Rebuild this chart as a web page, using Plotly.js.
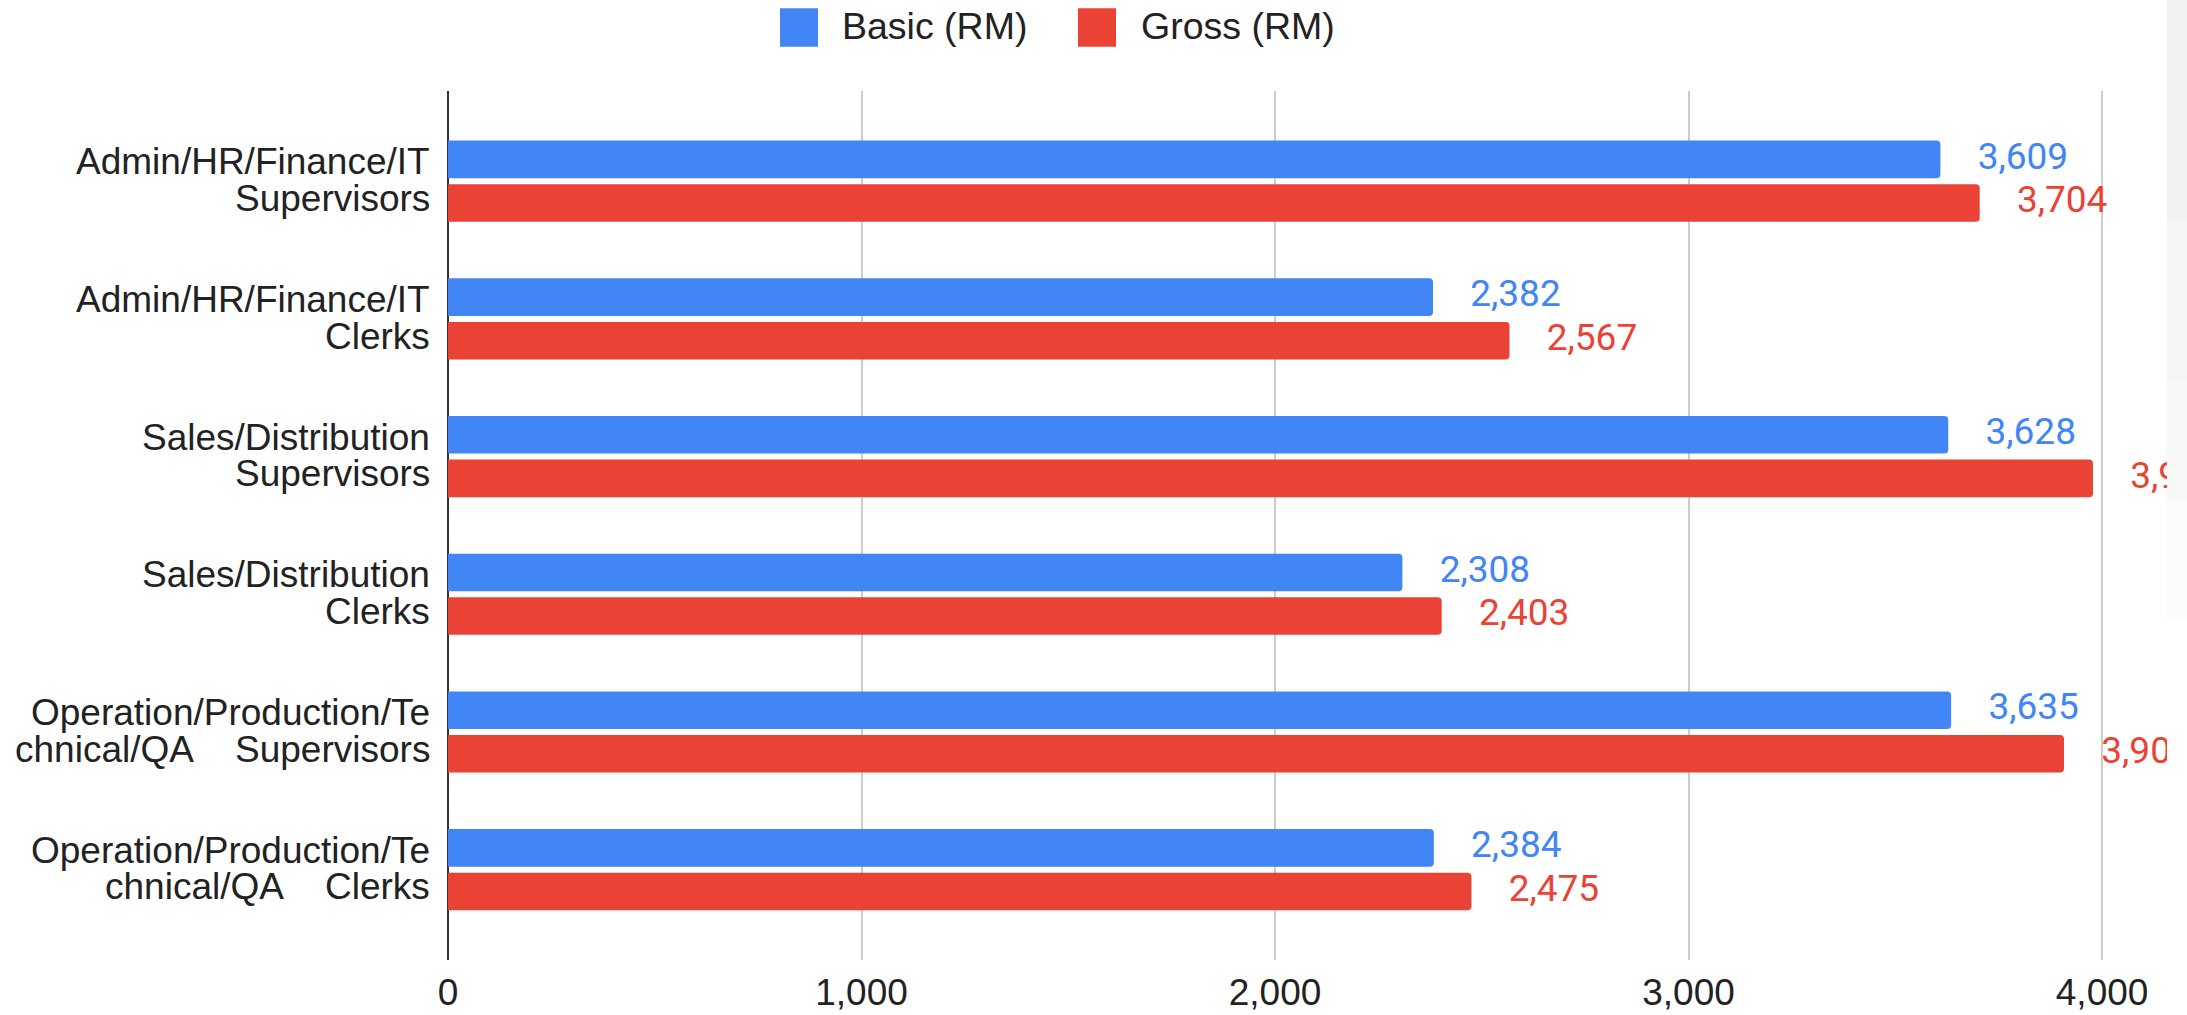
<!DOCTYPE html>
<html><head><meta charset="utf-8">
<script src="https://cdn.plot.ly/plotly-3.0.1.min.js"></script>
<style>html,body{margin:0;padding:0;background:#fff;overflow:hidden}#chart{width:2187px;height:1015px}</style>
</head><body><div id="chart"></div>
<script>
// ---- data ----
const categories = [
  "Admin/HR/Finance/IT Supervisors",
  "Admin/HR/Finance/IT Clerks",
  "Sales/Distribution Supervisors",
  "Sales/Distribution Clerks",
  "Operation/Production/Technical/QA Supervisors",
  "Operation/Production/Technical/QA Clerks"
];
const tickLabelLines = [
  ["Admin/HR/Finance/IT", "Supervisors"],
  ["Admin/HR/Finance/IT", "Clerks"],
  ["Sales/Distribution", "Supervisors"],
  ["Sales/Distribution", "Clerks"],
  ["Operation/Production/Te", "chnical/QA\u00a0\u00a0\u00a0\u00a0Supervisors"],
  ["Operation/Production/Te", "chnical/QA\u00a0\u00a0\u00a0\u00a0Clerks"]
];
const seriesNames = ["Basic (RM)", "Gross (RM)"];
const basicValues = [3609, 2382, 3628, 2308, 3635, 2384];
const grossValues = [3704, 2567, 3978, 2403, 3908, 2475];
const xTickValues = [0, 1000, 2000, 3000, 4000];
const xTickLabels = ["0", "1,000", "2,000", "3,000", "4,000"];

// ---- styles ----
const BLUE = "#4285F4", RED = "#EA4335";
const seriesColors = [BLUE, RED];
const ARIAL = '"Liberation Sans", Arial, sans-serif';
const fmt = v => v.toLocaleString("en-US");

// page geometry helpers (pixel -> paper)
const M = {l: 448, r: 20, t: 91, b: 55};
const W = 2187, H = 1015;
const PW = W - M.l - M.r, PH = H - M.t - M.b;
const px2x = p => (p - M.l) / PW;
const py2y = p => (H - M.b - p) / PH;

function barTrace(name, vals, color) {
  return {type: "bar", orientation: "h", name: name, y: categories, x: vals,
    marker: {color: color, line: {width: 0}}, hoverinfo: "skip", showlegend: false};
}
function labelTrace(vals, color) {
  return {type: "scatter", mode: "markers+text", orientation: "h", y: categories, x: vals,
    text: vals.map(fmt), textposition: "middle right",
    textfont: {family: "Roboto, sans-serif", size: 37, color: color},
    marker: {size: 58, color: "rgba(0,0,0,0)"}, cliponaxis: true,
    showlegend: false, hoverinfo: "skip"};
}

const data = [
  barTrace(seriesNames[0], basicValues, BLUE),
  barTrace(seriesNames[1], grossValues, RED),
  labelTrace(basicValues, BLUE),
  labelTrace(grossValues, RED)
];

// category labels (two lines each, tight line spacing)
const annotations = [];
categories.forEach((c, i) => {
  const shifts = [19.4, -17.3];
  tickLabelLines[i].forEach((t, k) => {
    annotations.push({xref: "paper", yref: "y", x: 0, y: c, text: t, showarrow: false,
      xanchor: "right", yanchor: "middle", xshift: -16, yshift: shifts[k],
      font: {family: ARIAL, size: 37, color: "#222"}});
  });
});

// legend (top): coloured squares + names
const legendSquareLeft = [780, 1078];
const legendTextLeft = [840, 1139];
const shapes = [];
seriesNames.forEach((n, i) => {
  shapes.push({type: "rect", layer: "above", xref: "paper", yref: "paper",
    x0: px2x(legendSquareLeft[i]), x1: px2x(legendSquareLeft[i] + 38),
    y0: py2y(46.7), y1: py2y(8.3), fillcolor: seriesColors[i], line: {width: 0}});
  annotations.push({xref: "paper", yref: "paper", x: px2x(legendTextLeft[i]), y: py2y(26),
    text: n, showarrow: false, xanchor: "left", yanchor: "middle",
    font: {family: ARIAL, size: 37.5, color: "#222"}});
});

// light grey page-edge band at the right
const bandCols = ["#f2f2f2", "#f5f5f5", "#f8f8f8", "#fbfbfb"];
const bandEdges = [0, 220, 380, 500, 620];
bandCols.forEach((col, i) => shapes.push({type: "rect", layer: "above", xref: "paper", yref: "paper",
  x0: 1, x1: px2x(W + 5), y0: py2y(bandEdges[i + 1]), y1: py2y(bandEdges[i]),
  fillcolor: col, line: {width: 0}}));

const layout = {
  width: W, height: H,
  margin: {l: M.l, r: M.r, t: M.t, b: M.b, pad: 0},
  paper_bgcolor: "#fff", plot_bgcolor: "#fff",
  barmode: "group", bargap: 0.367, bargroupgap: 0.138, barcornerradius: 4,
  scattermode: "group", scattergap: 0.367,
  font: {family: ARIAL, size: 37, color: "#222"},
  showlegend: false,
  xaxis: {range: [0, 4157], tickvals: xTickValues, ticktext: xTickLabels,
    showgrid: true, gridcolor: "#cccccc", gridwidth: 2,
    zeroline: true, zerolinecolor: "#333333", zerolinewidth: 2,
    showline: false, ticks: "", ticklabelstandoff: 7,
    tickfont: {family: ARIAL, size: 37, color: "#222"},
    automargin: false, fixedrange: true},
  yaxis: {type: "category", categoryorder: "array", categoryarray: categories,
    range: [5.656, -0.655], showticklabels: false, showgrid: false, zeroline: false,
    showline: false, automargin: false, fixedrange: true},
  annotations: annotations,
  shapes: shapes
};

Plotly.newPlot("chart", data, layout, {displayModeBar: false, staticPlot: true});
</script></body></html>
